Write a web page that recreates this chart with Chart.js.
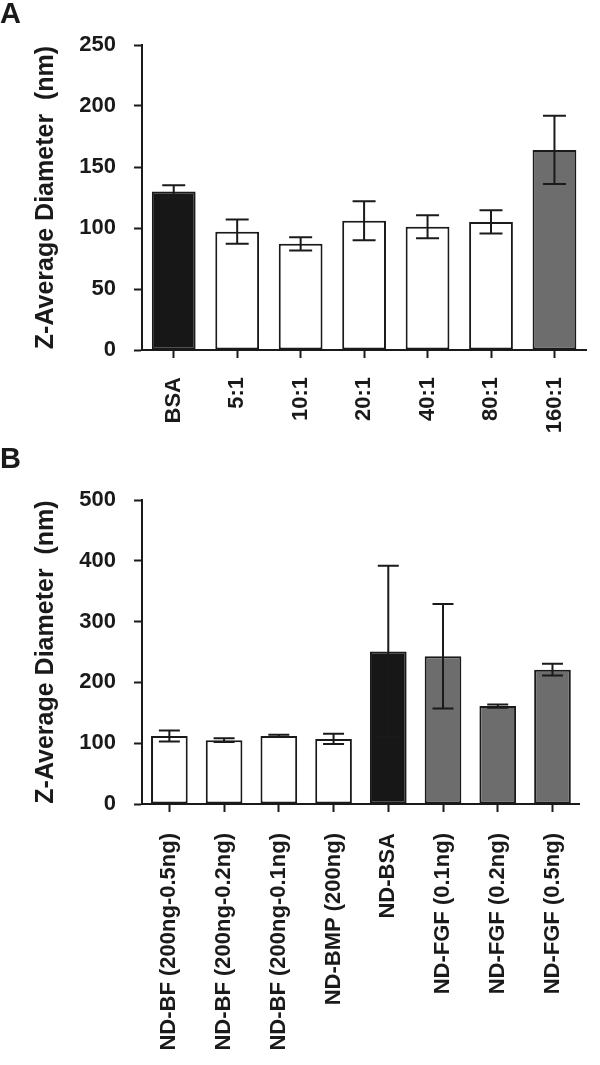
<!DOCTYPE html>
<html>
<head>
<meta charset="utf-8">
<script src="https://cdn.jsdelivr.net/npm/chart.js@4.4.0/dist/chart.umd.min.js"></script>
<style>
  body { margin: 0; background: #fff; }
  #wrap { position: relative; width: 600px; height: 1065px; overflow: hidden; }
  .panel { position: absolute; left: 0; width: 600px; }
  .letter { position: absolute; left: 0; font: bold 29px "Liberation Sans", Arial, sans-serif; line-height: 29px; color: #1a1a1a; }
</style>
</head>
<body>
<div id="wrap">
  <div class="panel" style="top:0"><canvas id="chartA" width="600" height="440"></canvas></div>
  <div class="panel" style="top:440px"><canvas id="chartB" width="600" height="625"></canvas></div>
  <div class="letter" style="top:-1px">A</div>
  <div class="letter" style="top:444px">B</div>
</div>
<script>
// panel A
const categoriesA = ['BSA', '5:1', '10:1', '20:1', '40:1', '80:1', '160:1'];
const meansA = [130, 97, 87, 106, 101, 105, 164];
const errorsA = [5, 10, 5.5, 16, 9.5, 9.5, 28];
const ticksA = [0, 50, 100, 150, 200, 250];

// panel B
const categoriesB = ['ND-BF (200ng-0.5ng)', 'ND-BF (200ng-0.2ng)', 'ND-BF (200ng-0.1ng)', 'ND-BMP (200ng)',
  'ND-BSA', 'ND-FGF (0.1ng)', 'ND-FGF (0.2ng)', 'ND-FGF (0.5ng)'];
const meansB = [112, 105, 112, 107, 251, 243, 161, 221];
const errorsB = [9, 3, 2, 8.5, 141, 86, 2.5, 9.5];
const ticksB = [0, 100, 200, 300, 400, 500];

const ink = '#1a1a1a';
const black = '#171717';
const gray = '#6d6d6d';
const white = '#ffffff';
const family = '"Liberation Sans", Arial, sans-serif';

const coloursA = [black, white, white, white, white, white, gray];
const coloursB = [white, white, white, white, black, gray, gray, gray];

// draws mean +/- error whiskers through the chart's own scales
function errorBars(errors, cap) {
  return {
    id: 'errorBars',
    afterDatasetsDraw(chart) {
      const ctx = chart.ctx;
      const x = chart.scales.x, y = chart.scales.y;
      const values = chart.data.datasets[0].data;
      ctx.save();
      ctx.strokeStyle = ink;
      ctx.lineWidth = 2;
      values.forEach((v, i) => {
        const cx = x.getPixelForValue(i);
        const top = y.getPixelForValue(v + errors[i]);
        const bot = y.getPixelForValue(v - errors[i]);
        ctx.beginPath();
        ctx.moveTo(cx, top); ctx.lineTo(cx, bot);
        ctx.moveTo(cx - cap / 2, top); ctx.lineTo(cx + cap / 2, top);
        ctx.moveTo(cx - cap / 2, bot); ctx.lineTo(cx + cap / 2, bot);
        ctx.stroke();
      });
      ctx.restore();
    }
  };
}

function makeChart(id, labels, values, colours, errors, tickVals, cfg) {
  return new Chart(document.getElementById(id), {
    type: 'bar',
    data: {
      labels: labels,
      datasets: [{
        data: values,
        backgroundColor: colours,
        borderColor: ink,
        borderWidth: 2,
        borderSkipped: false,
        barPercentage: cfg.barPct,
        categoryPercentage: 1
      }]
    },
    options: {
      responsive: false,
      animation: false,
      layout: { padding: { top: cfg.top, right: 2, bottom: 0, left: 0 } },
      plugins: { legend: { display: false }, tooltip: { enabled: false } },
      scales: {
        x: {
          offset: true,
          ticks: {
            color: ink, autoSkip: false, minRotation: 90, maxRotation: 90, padding: cfg.xPad,
            font: { family: family, size: 22, weight: 'bold' }
          },
          grid: { drawOnChartArea: false, offset: false, tickLength: 8, tickWidth: 2, tickColor: ink },
          border: { display: true, color: ink, width: 2 },
          afterFit(s) { s.height = cfg.xHeight; }
        },
        y: {
          min: tickVals[0],
          max: tickVals[tickVals.length - 1],
          afterBuildTicks(s) { s.ticks = tickVals.map(v => ({ value: v })); },
          ticks: { color: ink, padding: 18, font: { family: family, size: 22, weight: 'bold' } },
          grid: { drawOnChartArea: false, tickLength: 8, tickWidth: 2, tickColor: ink },
          border: { display: true, color: ink, width: 2 },
          title: {
            display: true, text: 'Z-Average Diameter  (nm)', color: ink,
            font: { family: family, size: 25, weight: 'bold' },
            padding: { top: 31, bottom: 0 }
          },
          afterFit(s) { s.width = 142; }
        }
      }
    },
    plugins: [errorBars(errors, cfg.cap)]
  });
}

makeChart('chartA', categoriesA, meansA, coloursA, errorsA, ticksA,
  { top: 45, xHeight: 90, barPct: 0.69, cap: 23, xPad: 19 });
makeChart('chartB', categoriesB, meansB, coloursB, errorsB, ticksB,
  { top: 60, xHeight: 261, barPct: 0.67, cap: 21, xPad: 21 });
</script>
</body>
</html>
